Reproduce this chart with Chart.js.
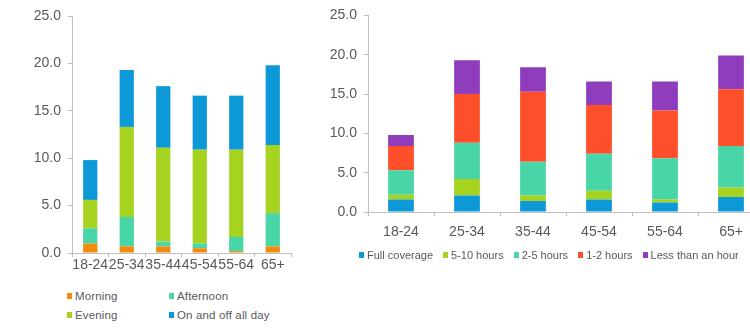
<!DOCTYPE html>
<html>
<head>
<meta charset="utf-8">
<script src="https://cdn.jsdelivr.net/npm/chart.js@4.4.1/dist/chart.umd.min.js"></script>
<style>
  html, body { margin: 0; padding: 0; background: #fff; overflow: hidden; }
  body { width: 750px; height: 331px; position: relative; font-family: "Liberation Sans", Arial, sans-serif; color: #595959; }
  #left { position: absolute; left: 0; top: 0; }
  #right { position: absolute; left: 300px; top: 0; }
  .legend { position: absolute; font-size: 11px; }
  .legend span.item { display: inline-flex; align-items: center; white-space: nowrap; }
  .legend i { display: inline-block; width: 5px; height: 6px; margin-right: 3px; }
  #legLeft { left: 67px; top: 290px; display: grid; grid-template-columns: 102px 110px; row-gap: 7px; font-size: 11.5px; letter-spacing: 0.15px; }
  #legRight { left: 359px; top: 249px; display: flex; gap: 10px; }
</style>
</head>
<body>
<canvas id="left" width="310" height="285"></canvas>
<canvas id="right" width="480" height="240"></canvas>
<div class="legend" id="legLeft"></div>
<div class="legend" id="legRight"></div>
<script>
// categories
const ageGroups = ['18-24', '25-34', '35-44', '45-54', '55-64', '65+'];

// left chart: time of day
const timeLabels = ['Morning', 'Afternoon', 'Evening', 'On and off all day'];
const timeColors = ['#f28a0b', '#48d5a8', '#a5d31f', '#0d98d8'];
const morning   = [1.0, 0.7, 0.7, 0.5, 0.2, 0.7];
const afternoon = [1.6, 3.1, 0.5, 0.5, 1.5, 3.5];
const evening   = [3.0, 9.5, 9.9, 9.9, 9.2, 7.2];
const onAndOff  = [4.2, 6.0, 6.5, 5.7, 5.7, 8.4];

// right chart: hours of coverage
const hourLabels = ['Full coverage', '5-10 hours', '2-5 hours', '1-2 hours', 'Less than an hour'];
const hourColors = ['#0d98d8', '#a5d31f', '#48d5a8', '#ff4f2a', '#8f3dbd'];
const fullCoverage = [1.6, 2.1, 1.4, 1.6, 1.2, 1.9];
const fiveToTen    = [0.6, 2.1, 0.7, 1.1, 0.4, 1.2];
const twoToFive    = [3.1, 4.6, 4.3, 4.7, 5.25, 5.3];
const oneToTwo     = [3.1, 6.2, 8.9, 6.2, 6.05, 7.2];
const lessThanHour = [1.4, 4.3, 3.1, 3.0, 3.7, 4.3];

const yTicks = [0, 5, 10, 15, 20, 25];

const grey = '#595959';
const axisGrey = '#bfbfbf';

function makeDatasets(labels, colors, values) {
  return labels.map((l, i) => ({
    label: l,
    data: values[i],
    backgroundColor: colors[i],
    borderWidth: 0,
    categoryPercentage: 1,
    barPercentage: 0.39
  }));
}

function makeOptions(yWidth, xHeight, pad, labelPad) {
  return {
    responsive: false,
    animation: false,
    devicePixelRatio: 1,
    layout: { padding: pad },
    plugins: { legend: { display: false }, tooltip: { enabled: false } },
    scales: {
      x: {
        stacked: true,
        border: { color: axisGrey },
        grid: { drawOnChartArea: false, color: axisGrey, tickLength: 4, offset: true },
        ticks: { color: grey, font: { family: 'Liberation Sans', size: 14 }, padding: labelPad,
                 autoSkip: false, maxRotation: 0, minRotation: 0 },
        afterFit: s => { s.height = xHeight; }
      },
      y: {
        stacked: true,
        min: 0, max: 25,
        border: { color: axisGrey },
        grid: { drawOnChartArea: false, color: axisGrey, tickLength: 4 },
        afterBuildTicks: s => { s.ticks = yTicks.map(v => ({ value: v })); },
        ticks: { color: grey, font: { family: 'Liberation Sans', size: 14 }, padding: 7,
                 callback: v => v.toFixed(1) },
        afterFit: s => { s.width = yWidth; }
      }
    }
  };
}

new Chart(document.getElementById('left'), {
  type: 'bar',
  data: { labels: ageGroups, datasets: makeDatasets(timeLabels, timeColors, [morning, afternoon, evening, onAndOff]) },
  options: makeOptions(72, 32, { top: 16, right: 19, left: 0, bottom: 0 }, 0)
});

new Chart(document.getElementById('right'), {
  type: 'bar',
  data: { labels: ageGroups, datasets: makeDatasets(hourLabels, hourColors, [fullCoverage, fiveToTen, twoToFive, oneToTwo, lessThanHour]) },
  options: makeOptions(68, 28, { top: 13, right: 16, left: 0, bottom: 0 }, 8)
});

function buildLegend(el, labels, colors) {
  labels.forEach((l, i) => {
    const s = document.createElement('span');
    s.className = 'item';
    s.innerHTML = '<i style="background:' + colors[i] + '"></i>' + l;
    el.appendChild(s);
  });
}
buildLegend(document.getElementById('legLeft'), timeLabels, timeColors);
buildLegend(document.getElementById('legRight'), hourLabels, hourColors);
</script>
</body>
</html>
